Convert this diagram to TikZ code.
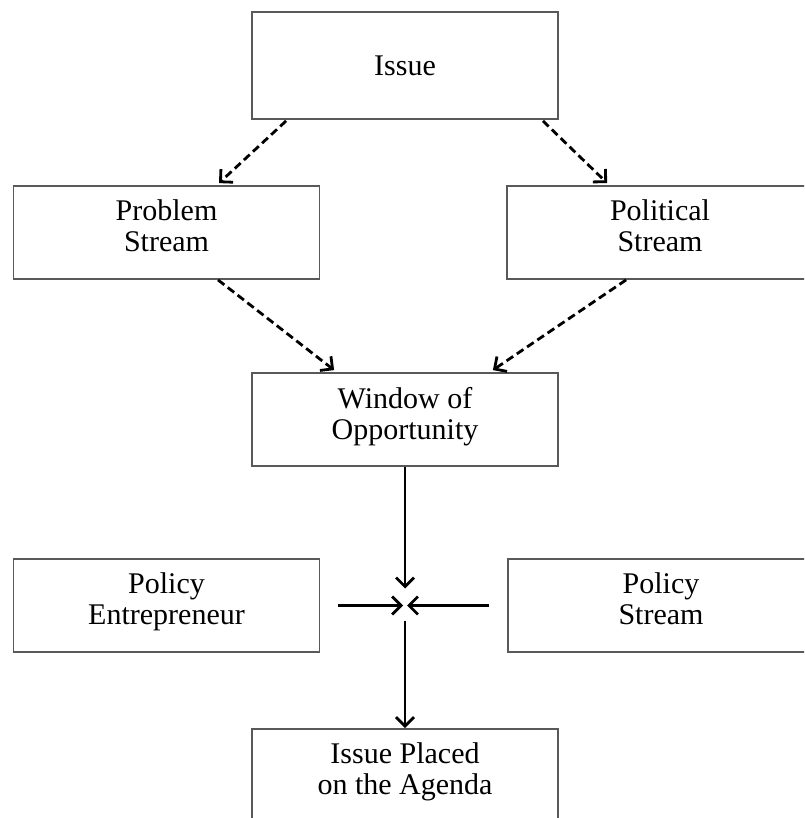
\documentclass[tikz,border=0pt]{standalone}
\usepackage{fontspec}
\setmainfont{Liberation Serif}
\usetikzlibrary{arrows.meta,calc}

\tikzset{every picture/.style={line width=0.75pt}}
\tikzset{
  box/.style={draw=black!65, line width=0.9pt, inner sep=0pt, align=center,
    minimum width=153pt, minimum height=46.5pt,
    font=\fontsize{15}{15.5}\selectfont},
  twoline/.style={box, text depth=6.5pt},
  flow/.style={line width=1.4pt, -{Straight Barb[length=4.5pt,width=9pt]}},
  dflow/.style={flow, dash pattern=on 4pt off 2.2pt},
}

\begin{document}
\begin{tikzpicture}[x=0.5pt,y=0.5pt,yscale=-1]
%set diagram area 804 x 818, boxes on the right and bottom run past it
\path[use as bounding box, clip] (0,0) rectangle (804,818);

%Shape: Rectangle [Issue]
\node[box, minimum height=53.5pt] (issue) at (405,65.5) {Issue};
%Shape: Rectangle [streams]
\node[twoline] (problem) at (166.5,232.5) {Problem\\Stream};
\node[twoline] (political) at (660,232.5) {Political\\Stream};
%Shape: Rectangle [Window]
\node[twoline] (window) at (405,419.5) {Window of\\Opportunity};
%Shape: Rectangle [policy]
\node[twoline] (entrep) at (166.5,605.5) {Policy\\Entrepreneur};
\node[twoline] (policy) at (661,605.5) {Policy\\Stream};
%Shape: Rectangle [Agenda]
\node[twoline] (agenda) at (405,775.5) {Issue Placed\\on the Agenda};

%meeting point of the streams
\coordinate (meet) at (window.south |- entrep.east);

%Dashed Lines
\draw[dflow] ($(issue.south west)+(35,1)$) -- ($(problem.north)+(52.5,-2)$);
\draw[dflow] ($(issue.south east)+(-16,1)$) -- ($(political.north west)+(101,-2)$);
\draw[dflow] ($(problem.south)+(51.5,0)$) -- ($(window.north west)+(83,-2)$);
\draw[dflow] ($(political.south west)+(120,0)$) -- ($(window.north east)+(-66,-2)$);

%Straight Lines
\draw[flow] (window.south) -- ($(meet)+(0,-17)$);
\draw[flow] ($(entrep.east)+(18,0)$) -- ($(meet)+(-2,0)$);
\draw[flow] ($(policy.west)+(-18,0)$) -- ($(meet)+(2,0)$);
\draw[flow] ($(meet)+(0,15)$) -- (agenda.north);
\end{tikzpicture}
\end{document}
